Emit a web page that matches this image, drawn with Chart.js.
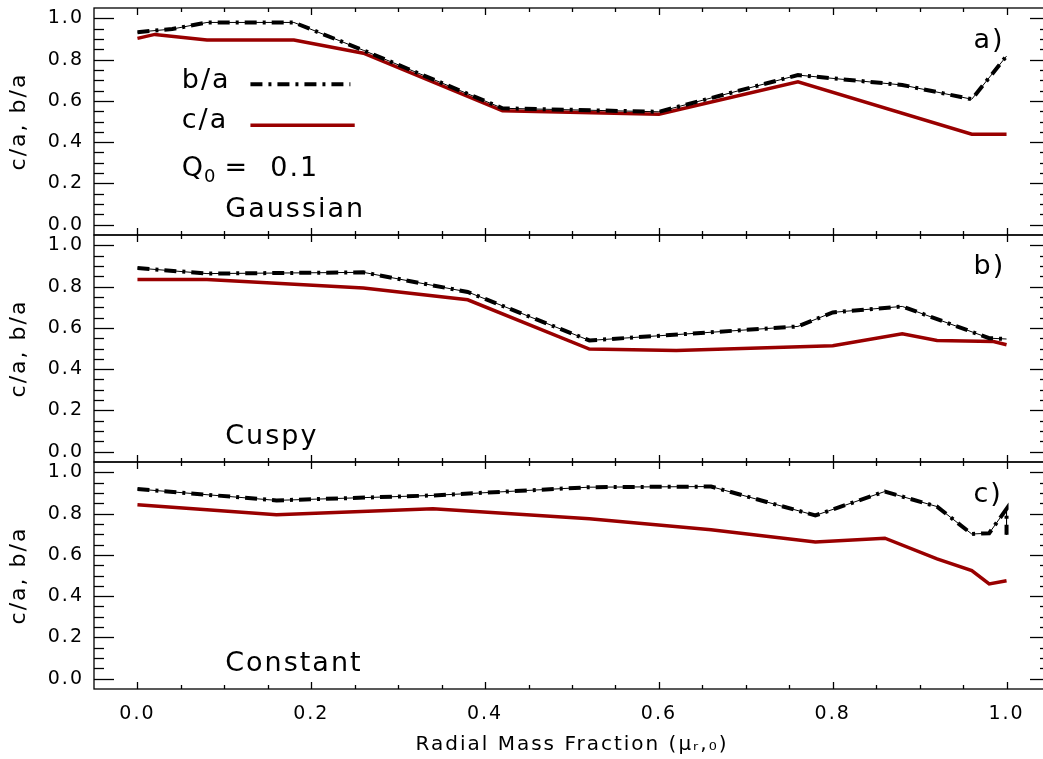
<!DOCTYPE html>
<html>
<head>
<meta charset="utf-8">
<script src="https://cdn.jsdelivr.net/npm/chart.js@4.4.1/dist/chart.umd.min.js"></script>
<style>
html, body { margin: 0; padding: 0; background: #fff; overflow: hidden; }
#wrap { position: relative; width: 1043px; height: 759px; overflow: hidden; background: #fff; }
#shapeChart { position: absolute; left: 0; top: 0; }
</style>
</head>
<body>
<div id="wrap"><canvas id="shapeChart" width="1060" height="759"></canvas></div>
<script>
// panel a) Gaussian
const gaussBaX = [0.0, 0.04, 0.08, 0.18, 0.26, 0.42, 0.60, 0.76, 0.88, 0.96, 1.0];
const gaussBa  = [0.933, 0.948, 0.980, 0.980, 0.845, 0.564, 0.547, 0.725, 0.677, 0.608, 0.817];
const gaussCaX = [0.0, 0.02, 0.08, 0.18, 0.26, 0.42, 0.60, 0.76, 0.96, 1.0];
const gaussCa  = [0.903, 0.922, 0.895, 0.895, 0.831, 0.552, 0.535, 0.692, 0.438, 0.438];

// panel b) Cuspy
const cuspyBaX = [0.0, 0.08, 0.26, 0.38, 0.52, 0.76, 0.80, 0.88, 0.98, 1.0];
const cuspyBa  = [0.890, 0.863, 0.869, 0.774, 0.539, 0.607, 0.675, 0.704, 0.550, 0.546];
const cuspyCaX = [0.0, 0.08, 0.26, 0.38, 0.52, 0.62, 0.80, 0.88, 0.92, 0.985, 1.0];
const cuspyCa  = [0.834, 0.834, 0.793, 0.736, 0.497, 0.490, 0.513, 0.571, 0.539, 0.534, 0.518];

// panel c) Constant
const constBaX = [0.0, 0.16, 0.34, 0.52, 0.66, 0.78, 0.86, 0.92, 0.96, 0.98, 1.0, 1.0];
const constBa  = [0.919, 0.864, 0.888, 0.928, 0.931, 0.791, 0.907, 0.834, 0.701, 0.705, 0.823, 0.697];
const constCaX = [0.0, 0.16, 0.34, 0.52, 0.66, 0.78, 0.86, 0.92, 0.96, 0.98, 1.0];
const constCa  = [0.843, 0.794, 0.823, 0.775, 0.722, 0.662, 0.681, 0.581, 0.524, 0.459, 0.475];

const xTicks = [0.0, 0.2, 0.4, 0.6, 0.8, 1.0];
const yTicks = [0.0, 0.2, 0.4, 0.6, 0.8, 1.0];
const panelIds   = ['yA', 'yB', 'yC'];
const panelTags  = ['a)', 'b)', 'c)'];
const panelNames = ['Gaussian', 'Cuspy', 'Constant'];

const FONT = "'DejaVu Sans', sans-serif";
const RED = '#990000';
const DASHDOT = [12, 6, 3, 6];

function pts(xs, ys) {
    return xs.map((x, i) => ({x: x, y: ys[i]}));
}

// b/a is drawn as a thick dash-dot line over a thin solid one
function baSets(xs, ys, axis) {
    return [{
        data: pts(xs, ys), yAxisID: axis, borderColor: '#000', borderWidth: 4,
        borderDash: DASHDOT, pointRadius: 0, order: 0
    }, {
        data: pts(xs, ys), yAxisID: axis, borderColor: '#000', borderWidth: 1,
        pointRadius: 0, order: 1
    }];
}
function caSet(xs, ys, axis) {
    return {
        data: pts(xs, ys), yAxisID: axis, borderColor: RED, borderWidth: 3.5,
        pointRadius: 0, order: 2
    };
}

function yScale() {
    return {
        type: 'linear', position: 'left', stack: 'panels', stackWeight: 1,
        min: -0.05, max: 1.05,
        afterBuildTicks: s => { s.ticks = yTicks.map(v => ({value: v})); },
        afterFit: s => { s.width = 94; s.paddingTop = 0; s.paddingBottom = 0; },
        grid: {display: false, drawTicks: false},
        border: {display: false},
        ticks: {
            color: '#000', padding: 10, autoSkip: false,
            font: {family: FONT, size: 19},
            callback: v => v.toFixed(1)
        },
        title: {
            display: true, text: 'c/a, b/a', color: '#000',
            font: {family: FONT, size: 22}, padding: {top: 6, bottom: 0}
        }
    };
}

function line(ctx, x1, y1, x2, y2) {
    ctx.beginPath(); ctx.moveTo(x1, y1); ctx.lineTo(x2, y2); ctx.stroke();
}

// frame + inward tick marks on all four sides of each panel
const framePlugin = {
    id: 'frame',
    beforeUpdate(chart) { chart.ctx.letterSpacing = '2px'; },
    beforeDraw(chart) { chart.ctx.letterSpacing = '2px'; },
    afterDatasetsDraw(chart) {
        const ctx = chart.ctx, area = chart.chartArea, xs = chart.scales.x;
        ctx.save();
        ctx.strokeStyle = '#000';
        ctx.lineWidth = 1.3;
        panelIds.forEach(id => {
            const ys = chart.scales[id];
            ctx.strokeRect(area.left, ys.top, area.right - area.left, ys.bottom - ys.top);
            for (let k = -1; k <= 21; k++) {
                const v = k * 0.05;
                if (v <= xs.min + 1e-9 || v >= xs.max - 1e-9) continue;
                const px = Math.round(xs.getPixelForValue(v)) + 0.5;
                const len = k % 4 === 0 ? 7 : 4;
                line(ctx, px, ys.bottom, px, ys.bottom - len);
                line(ctx, px, ys.top, px, ys.top + len);
            }
            for (let k = -1; k <= 21; k++) {
                const v = k * 0.05;
                if (v <= ys.min + 1e-9 || v >= ys.max - 1e-9) continue;
                const py = Math.round(ys.getPixelForValue(v)) + 0.5;
                const len = k % 4 === 0 ? 20 : 10;
                line(ctx, area.left, py, area.left + len, py);
                line(ctx, area.right, py, area.right - len, py);
            }
        });
        ctx.restore();
    },
    afterDraw(chart) {
        const ctx = chart.ctx, xs = chart.scales.x;
        const X = v => xs.getPixelForValue(v);
        ctx.save();
        ctx.letterSpacing = '2px';
        ctx.fillStyle = '#000';
        ctx.font = '27px ' + FONT;
        ctx.textAlign = 'left';

        // panel tags and model names
        const tagY = [0.858, 0.861, 0.856];
        panelIds.forEach((id, i) => {
            const ys = chart.scales[id];
            ctx.textBaseline = 'alphabetic';
            ctx.fillText(panelTags[i], X(0.962), ys.getPixelForValue(tagY[i]));
            ctx.fillText(panelNames[i], X(0.101), ys.getPixelForValue(0.038));
        });

        // legend in panel a
        const ya = chart.scales.yA;
        ctx.textBaseline = 'middle';
        ctx.fillText('b/a', X(0.051), ya.getPixelForValue(0.696));
        ctx.fillText('c/a', X(0.051), ya.getPixelForValue(0.501));
        ctx.textBaseline = 'alphabetic';
        const qy = ya.getPixelForValue(0.234);
        ctx.fillText('Q', X(0.051), qy);
        let qx = X(0.051) + ctx.measureText('Q').width;
        ctx.font = '18px ' + FONT;
        ctx.fillText('0', qx - 1, qy + 6);
        qx += ctx.measureText('0').width + 6;
        ctx.font = '27px ' + FONT;
        ctx.fillText('=  0.1', qx, qy);

        ctx.lineWidth = 4;
        ctx.strokeStyle = '#000';
        ctx.setLineDash(DASHDOT);
        const lyB = ya.getPixelForValue(0.681);
        line(ctx, X(0.13), lyB, X(0.245), lyB);
        ctx.setLineDash([]);
        ctx.lineWidth = 3.5;
        ctx.strokeStyle = RED;
        const lyC = ya.getPixelForValue(0.482);
        line(ctx, X(0.13), lyC, X(0.25), lyC);
        ctx.restore();
    }
};

new Chart(document.getElementById('shapeChart'), {
    type: 'line',
    data: {
        datasets: [
            ...baSets(gaussBaX, gaussBa, 'yA'), caSet(gaussCaX, gaussCa, 'yA'),
            ...baSets(cuspyBaX, cuspyBa, 'yB'), caSet(cuspyCaX, cuspyCa, 'yB'),
            ...baSets(constBaX, constBa, 'yC'), caSet(constCaX, constCa, 'yC')
        ]
    },
    options: {
        responsive: false,
        animation: false,
        layout: {padding: {top: 8, right: 10, left: 0, bottom: 0}},
        elements: {line: {tension: 0, borderCapStyle: 'butt'}},
        plugins: {legend: {display: false}, tooltip: {enabled: false}},
        scales: {
            x: {
                type: 'linear', position: 'bottom', min: -0.05, max: 1.05,
                afterBuildTicks: s => { s.ticks = xTicks.map(v => ({value: v})); },
                afterFit: s => { s.height = 70; },
                grid: {display: false, drawTicks: false},
                border: {display: false},
                ticks: {
                    color: '#000', padding: 14, maxRotation: 0,
                    font: {family: FONT, size: 19},
                    callback: v => v.toFixed(1)
                },
                title: {
                    display: true, text: 'Radial Mass Fraction (\u03bc\u1d63,\u2080)', color: '#000',
                    font: {family: FONT, size: 20}, padding: {top: 0, bottom: 2}
                }
            },
            // stacked axes are placed bottom-up in definition order
            yC: yScale(),
            yB: yScale(),
            yA: yScale()
        }
    },
    plugins: [framePlugin]
});
</script>
</body>
</html>
